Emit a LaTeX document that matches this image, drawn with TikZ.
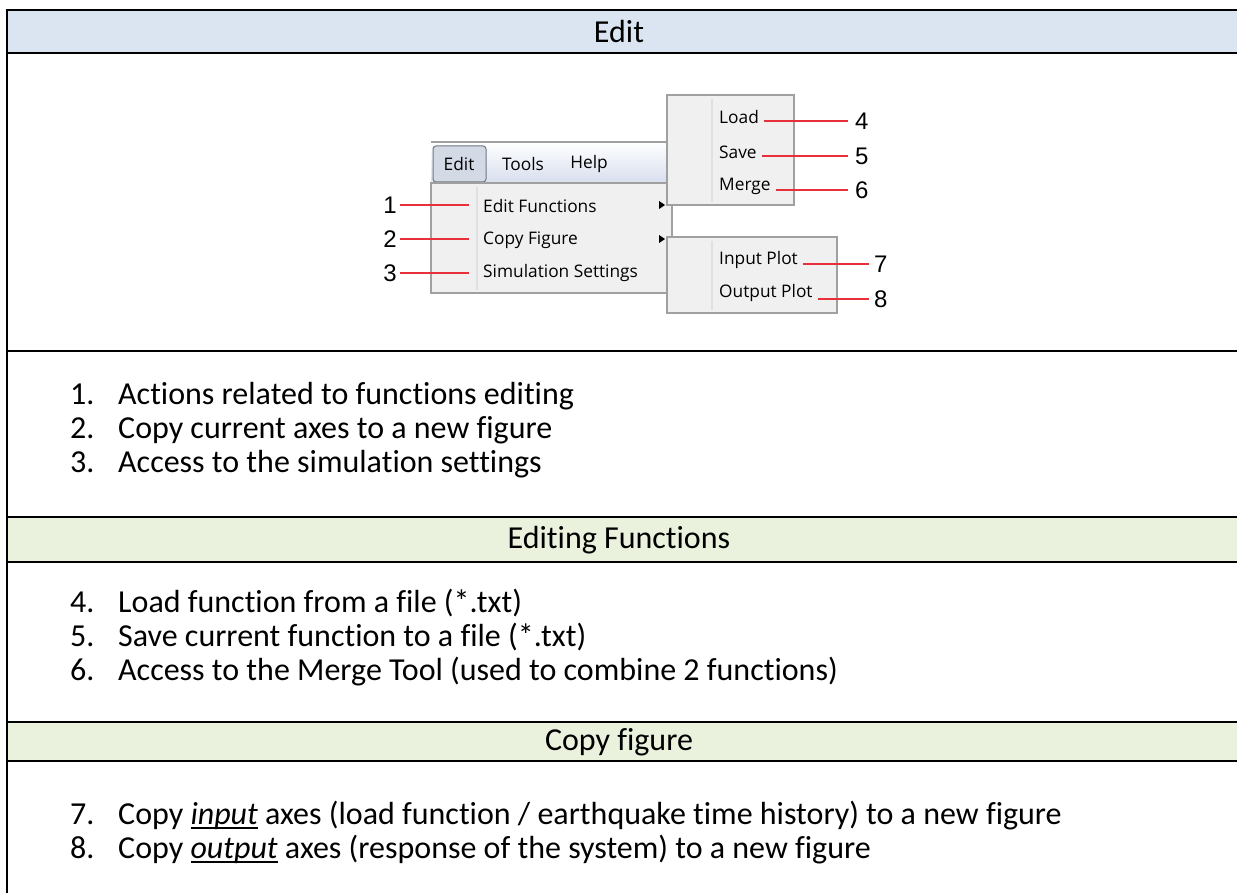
\documentclass[tikz,border=0pt]{standalone}
\usepackage{fontspec}
\setmainfont[Ligatures=NoCommon]{Carlito}
\newfontfamily\menufont{Open Sans}
\newfontfamily\numfont{Liberation Sans}
\definecolor{headblue}{HTML}{DBE5F1}
\definecolor{headgreen}{HTML}{EAF1DD}
\definecolor{menugrey}{HTML}{F0F0F0}
\definecolor{menuline}{HTML}{A0A0A0}
\definecolor{sepgrey}{HTML}{E0E0E0}
\definecolor{barblue}{HTML}{D8DFEE}
\definecolor{btnfill}{HTML}{D3DAE6}
\definecolor{btnline}{HTML}{707884}
\definecolor{callred}{HTML}{E8303A}
\newcommand{\undertext}[1]{\setbox0\hbox{\itshape #1}\rlap{\rule[-4.5pt]{\wd0}{2pt}}\box0\relax}
\tikzset{
  rule/.style={line width=2pt},
  title/.style={font=\fontsize{32}{36}\selectfont},
  listno/.style={anchor=base west, inner sep=0pt, font=\fontsize{32}{36}\selectfont},
  listtext/.style={anchor=base west, inner sep=0pt, font=\fontsize{32}{36}\selectfont},
  menubox/.style={draw=menuline, fill=menugrey, line width=1.3pt},
  sepline/.style={draw=sepgrey, line width=1.2pt},
  bar/.style={inner sep=0pt, font=\menufont\fontsize{17.3}{20}\selectfont},
  entry/.style={anchor=west, inner sep=0pt, font=\menufont\fontsize{17.3}{20}\selectfont},
  callout/.style={draw=callred, line width=1.3pt},
  callno/.style={inner sep=0pt, font=\numfont\fontsize{24}{28}\selectfont},
}
\begin{document}
\begin{tikzpicture}[x=1pt,y=-1pt]
\useasboundingbox (0,0) rectangle (1237,893);
% table bands and rules
\fill[headblue] (7,10) rectangle (1237,53);
\fill[headgreen] (7,517) rectangle (1237,562);
\fill[headgreen] (7,722) rectangle (1237,761);
\draw[rule] (1237,10) -- (7,10) -- (7,893);
\draw[rule] (7,53) -- (1237,53);
\draw[rule] (7,351) -- (1237,351);
\draw[rule] (7,517) -- (1237,517);
\draw[rule] (7,562) -- (1237,562);
\draw[rule] (7,722) -- (1237,722);
\draw[rule] (7,761) -- (1237,761);

\node[title] (hedit) at (619,32) {Edit};
\node[title] (hfun) at (619,540) {Editing Functions};
\node[title] (hcopy) at (619,742) {Copy figure};

% menu bar
\shade[top color=white, bottom color=barblue] (431,142) rectangle (667,182);
\draw[menuline, line width=1.3pt] (431,142) -- (667,142);
\draw[draw=btnline, fill=btnfill, rounded corners=3pt, line width=1pt] (433,146) rectangle (486,182);
\node[bar] (medit) at (459,164) {Edit};
\node[bar] (mtools) at (523,164) {Tools};
\node[bar] (mhelp) at (589,164) {Help};

% edit menu
\draw[menubox] (431,183) rectangle (672,293);
\draw[sepline] (477,187) -- (477,290);
\node[entry] (efun) at (483,206) {Edit Functions};
\node[entry] (cfig) at (483,240) {Copy Figure};
\node[entry] (sims) at (483,273) {Simulation Settings};
\fill (659,201) -- (665,205) -- (659,209) -- cycle;
\fill (659,235) -- (665,239) -- (659,243) -- cycle;

% sub menus
\draw[menubox] (667,95) rectangle (794,205);
\draw[sepline] (712,99) -- (712,202);
\node[entry] (load) at (719,117) {Load};
\node[entry] (save) at (719,152) {Save};
\node[entry] (merge) at (719,186) {Merge};
\draw[menubox] (667,237) rectangle (837,313);
\draw[sepline] (712,241) -- (712,310);
\node[entry] (inplot) at (719,260) {Input Plot};
\node[entry] (outplot) at (719,293) {Output Plot};

% callouts
\node[callno, anchor=east] (n1) at (397,205) {1};
\node[callno, anchor=east] (n2) at (397,239) {2};
\node[callno, anchor=east] (n3) at (397,273) {3};
\node[callno, anchor=west] (n4) at (855,121) {4};
\node[callno, anchor=west] (n5) at (855,156) {5};
\node[callno, anchor=west] (n6) at (855,190) {6};
\node[callno, anchor=west] (n7) at (874,264) {7};
\node[callno, anchor=west] (n8) at (874,299) {8};
\draw[callout, shorten <=3pt, shorten >=14pt] (n1.east) -- (efun.west |- n1.east);
\draw[callout, shorten <=3pt, shorten >=14pt] (n2.east) -- (cfig.west |- n2.east);
\draw[callout, shorten <=3pt, shorten >=14pt] (n3.east) -- (sims.west |- n3.east);
\draw[callout, shorten <=5pt, shorten >=7pt] (load.east |- n4.west) -- (n4.west);
\draw[callout, shorten <=5pt, shorten >=7pt] (save.east |- n5.west) -- (n5.west);
\draw[callout, shorten <=5pt, shorten >=7pt] (merge.east |- n6.west) -- (n6.west);
\draw[callout, shorten <=5pt, shorten >=5pt] (inplot.east |- n7.west) -- (n7.west);
\draw[callout, shorten <=5pt, shorten >=5pt] (outplot.east |- n8.west) -- (n8.west);

% lists
\node[listno] (l1) at (70,404) {1.};
\node[listtext] (t1) at (118,404) {Actions related to functions editing};
\node[listno] (l2) at (70,438) {2.};
\node[listtext] (t2) at (118,438) {Copy current axes to a new figure};
\node[listno] (l3) at (70,472) {3.};
\node[listtext] (t3) at (118,472) {Access to the simulation settings};
\node[listno] (l4) at (70,612) {4.};
\node[listtext] (t4) at (118,612) {Load function from a file (*.txt)};
\node[listno] (l5) at (70,646) {5.};
\node[listtext] (t5) at (118,646) {Save current function to a file (*.txt)};
\node[listno] (l6) at (70,680) {6.};
\node[listtext] (t6) at (118,680) {Access to the Merge Tool (used to combine 2 functions)};
\node[listno] (l7) at (70,824) {7.};
\node[listtext] (t7) at (118,824) {Copy \undertext{input} axes (load function / earthquake time history) to a new figure};
\node[listno] (l8) at (70,858) {8.};
\node[listtext] (t8) at (118,858) {Copy \undertext{output} axes (response of the system) to a new figure};
\end{tikzpicture}
\end{document}
